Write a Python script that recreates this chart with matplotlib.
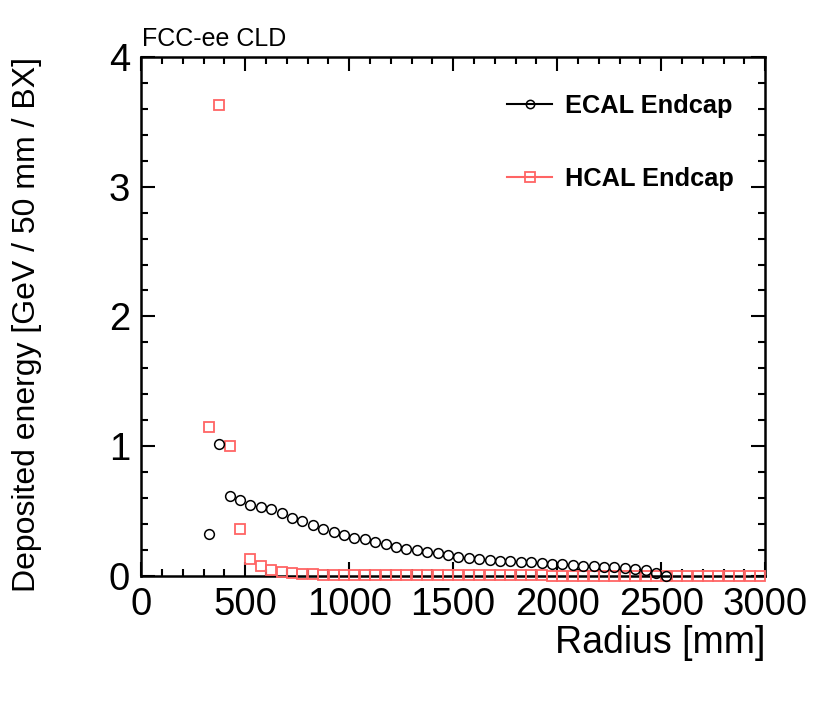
import numpy as np
import matplotlib.pyplot as plt
from matplotlib.lines import Line2D
from matplotlib.ticker import MultipleLocator

plt.rcParams['font.family'] = ['Liberation Sans', 'DejaVu Sans']

# bin centres, 50 mm bins
ecal_r = np.arange(325, 2526, 50)
ecal_e = [0.32, 1.015, 0.617, 0.583, 0.55, 0.534, 0.516, 0.486, 0.445, 0.42,
          0.395, 0.365, 0.337, 0.314, 0.295, 0.283, 0.264, 0.247, 0.224, 0.206,
          0.2, 0.185, 0.175, 0.16, 0.149, 0.141, 0.133, 0.123, 0.118, 0.116,
          0.11, 0.106, 0.098, 0.092, 0.09, 0.085, 0.079, 0.077, 0.072, 0.067,
          0.062, 0.054, 0.046, 0.021, 0.003]

hcal_r = np.arange(325, 2976, 50)
hcal_e = [1.146, 3.63, 1.0, 0.365, 0.128, 0.077, 0.046, 0.033, 0.025, 0.018,
          0.013, 0.010, 0.009, 0.008, 0.007, 0.007, 0.007, 0.006, 0.006, 0.006,
          0.006, 0.005, 0.005, 0.005, 0.005, 0.005, 0.004, 0.004, 0.004, 0.004,
          0.004, 0.004, 0.004, 0.003, 0.003, 0.003, 0.003, 0.003, 0.003, 0.003,
          0.003, 0.003, 0.003, 0.003, 0.003, 0.002, 0.002, 0.002, 0.002, 0.002,
          0.002, 0.002, 0.002, 0.002]

red = '#ff6464'

fig = plt.figure(figsize=(8.3, 7.02), dpi=100)
ax = fig.add_axes([0.170, 0.1795, 0.752, 0.7395])

ax.plot(ecal_r, ecal_e, ls='none', marker='o', ms=7, mfc='none',
        mec='black', mew=1.1, clip_on=False, zorder=5)
ax.plot(hcal_r, hcal_e, ls='none', marker='s', ms=7, mfc='none',
        mec=red, mew=1.3, clip_on=False, zorder=4)

ax.set_xlim(0, 3000)
ax.set_ylim(0, 4)
ax.xaxis.set_major_locator(MultipleLocator(500))
ax.xaxis.set_minor_locator(MultipleLocator(100))
ax.yaxis.set_major_locator(MultipleLocator(1))
ax.yaxis.set_minor_locator(MultipleLocator(0.2))
ax.tick_params(which='both', direction='in', top=True, right=True, width=1.5,
               labelsize=27.5)
ax.tick_params(which='major', length=10)
ax.tick_params(which='minor', length=5)
ax.tick_params(axis='x', pad=8)
ax.tick_params(axis='y', pad=8)
for s in ax.spines.values():
    s.set_linewidth(1.8)

fig.text(0.922, 1 - 653 / 702, 'Radius [mm]', ha='right', va='baseline',
         fontsize=27)
fig.text(0.032, 1 - 57 / 702, 'Deposited energy [GeV / 50 mm / BX]',
         rotation=90, ha='center', va='top', fontsize=23)
fig.text(0.171, 1 - 46 / 702, 'FCC-ee CLD', ha='left', va='baseline',
         fontsize=18)

handles = [Line2D([], [], color='black', lw=1.5, marker='o', ms=6, mfc='none',
                  mew=1.1),
           Line2D([], [], color=red, lw=1.5, marker='s', ms=6.5, mfc='none',
                  mew=1.3)]
leg = ax.legend(handles, ['ECAL Endcap', 'HCAL Endcap'], loc='upper left',
                bbox_to_anchor=(0.587, 0.928), frameon=False, borderpad=0,
                borderaxespad=0, prop={'weight': 'bold', 'size': 18.3},
                handlelength=1.75, labelspacing=1.9, handletextpad=0.5)

fig.savefig('out.png', dpi=100)
